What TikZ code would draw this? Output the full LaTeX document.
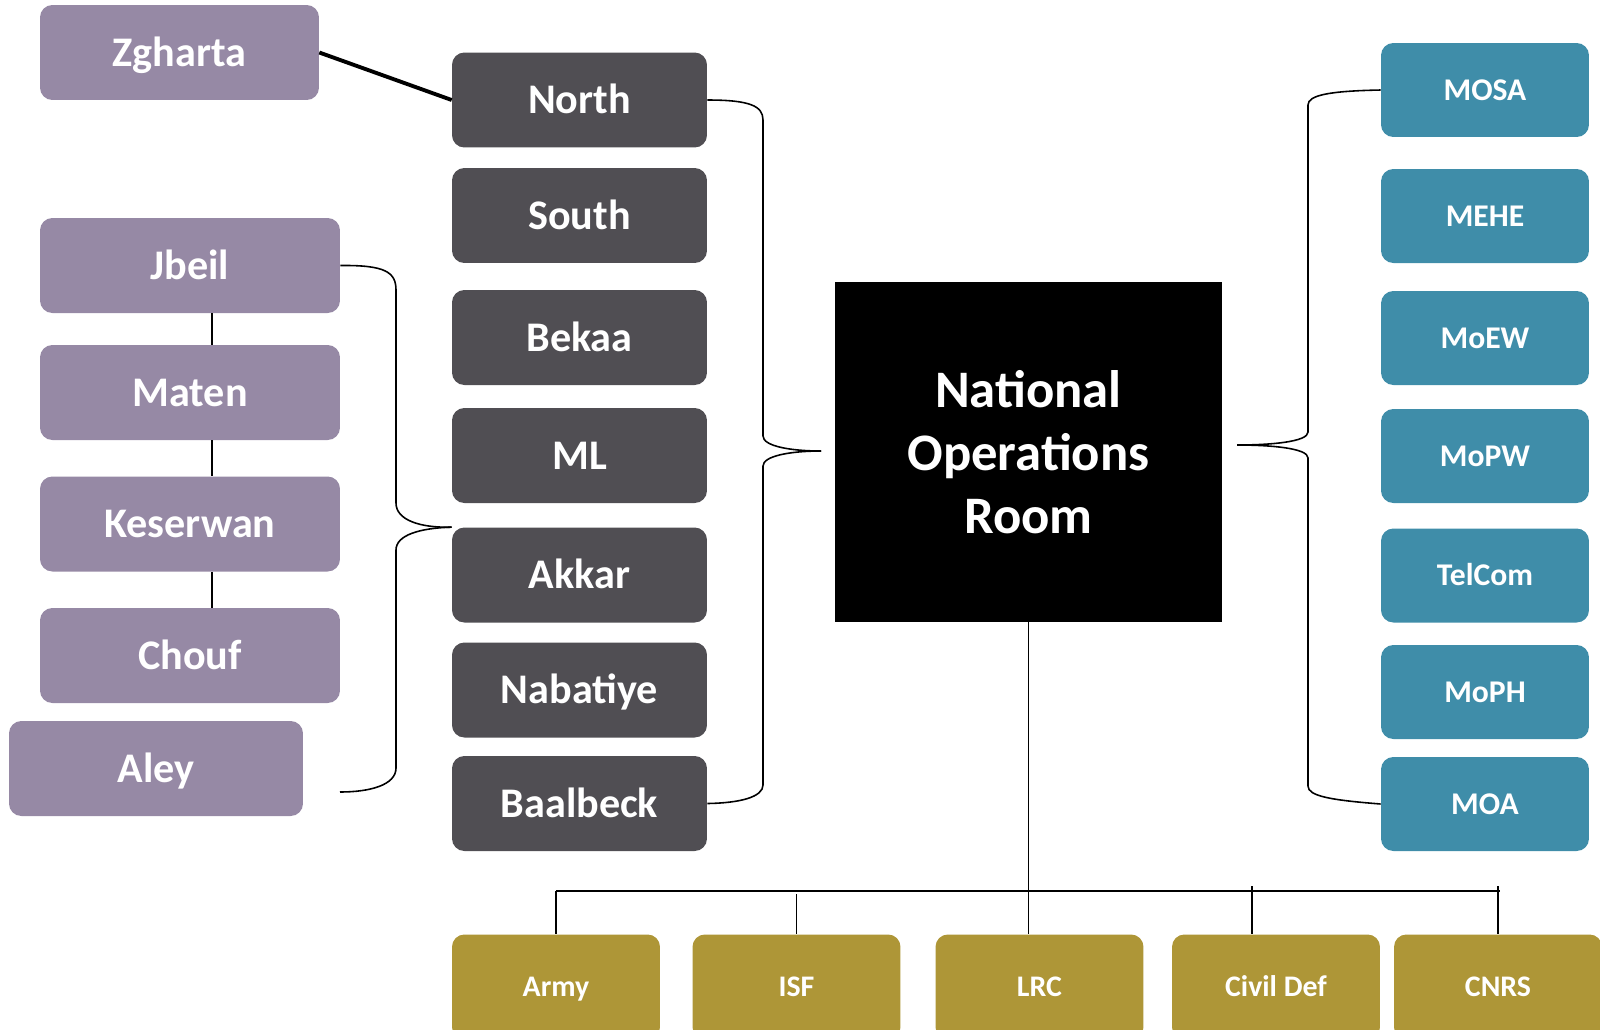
\documentclass[tikz,border=0pt]{standalone}
\usepackage{fontspec}
\setmainfont{Carlito}
\usetikzlibrary{positioning,calc}

\definecolor{distpurple}{RGB}{150,137,165}
\definecolor{regiongrey}{RGB}{80,78,83}
\definecolor{minteal}{RGB}{63,141,169}
\definecolor{agencygold}{RGB}{174,150,55}

\begin{document}
\begin{tikzpicture}[x=0.02cm, y=-0.02cm,
  box/.style={shape=rectangle, rounded corners=7pt, text=white, align=center, inner sep=0pt, text depth=0pt},
  district/.style={box, fill=distpurple, minimum width=6cm, minimum height=1.9cm, text height=15.5pt, font=\fontsize{24}{28}\selectfont\bfseries},
  region/.style={box, fill=regiongrey, minimum width=5.1cm, minimum height=1.9cm, text height=15.5pt, font=\fontsize{24}{28}\selectfont\bfseries},
  ministry/.style={box, fill=minteal, minimum width=4.16cm, minimum height=1.88cm, text height=11.6pt, font=\fontsize{18}{22}\selectfont\bfseries},
  agency/.style={box, fill=agencygold, minimum width=4.16cm, minimum height=2.1cm, text height=11pt, font=\fontsize{17}{20}\selectfont\bfseries},
  brace/.style={line width=0.9pt},
  link/.style={line width=0.8pt}]
\useasboundingbox (0,0) rectangle (1600,1029);
\clip (0,0) rectangle (1600,1029);

% districts
\node[district, minimum width=5.58cm] (zgharta) at (179.5,52.5) {Zgharta};
\node[district] (jbeil) at (190,265.5) {Jbeil};
\node[district] (maten) at (190,392.5) {Maten};
\node[district] (keserwan) at (190,524) {Keserwan};
\node[district] (chouf) at (190,655.5) {Chouf};
\node[district, minimum width=5.88cm] (aley) at (156,768.5) {Aley};
\coordinate (aleyend) at (340,792);

% regions
\node[region] (rnorth) at (579.5,100) {North};
\node[region] (rsouth) at (579.5,215.5) {South};
\node[region] (bekaa) at (579.5,337.5) {Bekaa};
\node[region] (ml) at (579.5,455.5) {ML};
\node[region] (akkar) at (579.5,575) {Akkar};
\node[region] (nabatiye) at (579.5,690) {Nabatiye};
\node[region] (baalbeck) at (579.5,803.5) {Baalbeck};

% operations room
\node[shape=rectangle, fill=black, text=white, align=center, minimum width=7.74cm, minimum height=6.8cm,
  font=\fontsize{30}{36}\selectfont\bfseries] (nor) at (1028.5,452) {National\\Operations\\Room};
\coordinate (tipC) at (821,451);
\coordinate (tipR) at (1237,445);

% ministries
\node[ministry] (mosa) at (1485,90) {MOSA};
\node[ministry] (mehe) at (1485,216) {MEHE};
\node[ministry] (moew) at (1485,338) {MoEW};
\node[ministry] (mopw) at (1485,456) {MoPW};
\node[ministry] (telcom) at (1485,575.5) {TelCom};
\node[ministry] (moph) at (1485,692) {MoPH};
\node[ministry] (moa) at (1485,804) {MOA};

% agencies
\node[agency] (army) at (556,987) {Army};
\node[agency] (isf) at (796.5,987) {ISF};
\node[agency] (lrc) at (1039.5,987) {LRC};
\node[agency] (civdef) at (1276,987) {Civil Def};
\node[agency] (cnrs) at (1498,987) {CNRS};
\coordinate (busL) at (556,891);
\coordinate (busR) at (1500,891);

% links
\draw[line width=2.2pt] (zgharta.east) -- (rnorth.west);
\draw[link] ([xshift=0.44cm]jbeil.south) -- ([xshift=0.44cm]maten.north);
\draw[link] ([xshift=0.44cm]maten.south) -- ([xshift=0.44cm]keserwan.north);
\draw[link] ([xshift=0.44cm]keserwan.south) -- ([xshift=0.44cm]chouf.north);

% braces
\draw[brace] (jbeil.east) .. controls (385,265) and (396,272) .. (396,290) -- (396,503)
  .. controls (396,520) and (420,528) .. (akkar.north west);
\draw[brace] (akkar.north west) .. controls (420,528) and (396,535) .. (396,550) -- (396,768)
  .. controls (396,785) and (370,792) .. (aleyend);
\draw[brace] (rnorth.east) .. controls (750,100) and (763,106) .. (763,120) -- (763,436)
  .. controls (763,446) and (790,451) .. (tipC);
\draw[brace] (tipC) .. controls (790,451) and (763,456) .. (763,466) -- (763,785)
  .. controls (763,797) and (740,803) .. (baalbeck.east);
\draw[brace] (mosa.west) .. controls (1330,91) and (1308,95) .. (1308,105) -- (1308,432)
  .. controls (1308,442) and (1270,445) .. (tipR);
\draw[brace] (tipR) .. controls (1270,445) and (1308,448) .. (1308,458) -- (1308,786)
  .. controls (1308,796) and (1330,800) .. (moa.west);

% bus to agencies
\draw[link] (nor.south) -- (nor.south |- lrc.north);
\draw[line width=1.2pt] (busL) -- (busR);
\draw[link] (busL) -- (army.north);
\draw[link] (isf.north |- 0,894) -- (isf.north);
\draw[link] (1252,886) -- (1252,934);
\draw[link] (cnrs.north |- 0,886) -- (cnrs.north);
\end{tikzpicture}
\end{document}
